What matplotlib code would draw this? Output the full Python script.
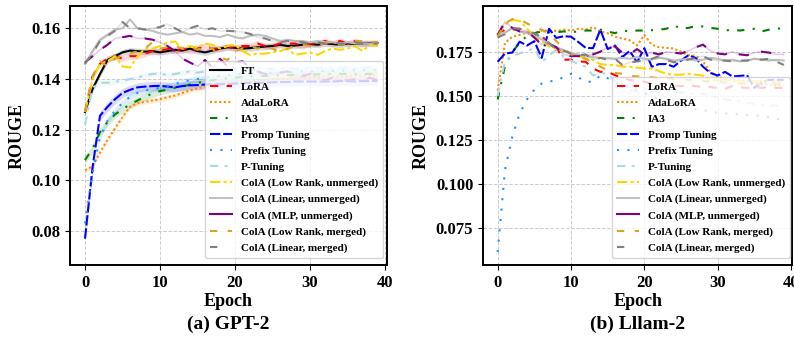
import numpy as np
import matplotlib
matplotlib.use("Agg")
import matplotlib.pyplot as plt
from matplotlib.lines import Line2D

plt.rcParams['font.family'] = ['Liberation Serif', 'DejaVu Serif']
plt.rcParams['font.weight'] = 'bold'

epochs = list(range(40))

labels = ["FT", "LoRA", "AdaLoRA", "IA3", "Promp Tuning", "Prefix Tuning", "P-Tuning",
          "ColA (Low Rank, unmerged)", "ColA (Linear, unmerged)", "ColA (MLP, unmerged)",
          "ColA (Low Rank, merged)", "ColA (Linear, merged)"]

# ---------------- GPT-2 (left) ----------------
gpt_ft = [0.127,0.136,0.142,0.1475,0.149,0.1505,0.1512,0.151,0.1508,0.151,0.1505,0.151,0.1515,0.1512,0.152,0.151,0.1505,0.1512,0.152,0.1525,
          0.1523,0.152,0.1522,0.1525,0.1528,0.153,0.1535,0.153,0.1532,0.1535,0.1538,0.1535,0.154,0.1538,0.1535,0.154,0.1538,0.154,0.1542,0.1542]
gpt_lora = [0.127,0.141,0.146,0.148,0.149,0.148,0.149,0.149,0.150,0.151,0.151,0.152,0.151,0.152,0.151,0.152,0.153,0.152,0.152,0.153,
            0.152,0.153,0.153,0.154,0.153,0.153,0.154,0.154,0.154,0.153,0.154,0.154,0.155,0.154,0.155,0.154,0.155,0.154,0.154,0.154]
gpt_adalora = [0.104,0.1055,0.111,0.116,0.1205,0.125,0.129,0.1305,0.131,0.1315,0.132,0.1328,0.1335,0.1345,0.1355,0.1363,0.137,0.1375,0.138,0.1383,
               0.1385,0.1388,0.139,0.1393,0.1395,0.1398,0.140,0.140,0.1403,0.1405,0.1405,0.1408,0.141,0.141,0.141,0.1412,0.1413,0.1413,0.1415,0.1415]
gpt_ia3 = [0.108,0.1125,0.119,0.123,0.126,0.128,0.130,0.1315,0.133,0.1343,0.1352,0.1358,0.1365,0.137,0.1378,0.1385,0.139,0.1395,0.140,0.1403,
           0.1405,0.1408,0.141,0.141,0.1412,0.1413,0.1415,0.1415,0.1415,0.1415,0.1418,0.1418,0.142,0.142,0.142,0.142,0.142,0.142,0.142,0.142]
gpt_promp = [0.077,0.105,0.1255,0.129,0.132,0.1345,0.1357,0.1367,0.137,0.1372,0.1373,0.137,0.1367,0.1372,0.1375,0.1376,0.1378,0.138,0.138,0.138,
             0.1382,0.1383,0.1385,0.1385,0.1385,0.1387,0.1388,0.1388,0.139,0.139,0.139,0.139,0.139,0.139,0.1392,0.1392,0.139,0.1392,0.1392,0.1392]
gpt_prefix = [0.083,0.103,0.117,0.1235,0.1275,0.1305,0.133,0.1345,0.1355,0.136,0.1365,0.137,0.138,0.139,0.1395,0.140,0.1405,0.141,0.1412,0.1415,
              0.1418,0.142,0.142,0.1422,0.1422,0.1425,0.1425,0.1427,0.1428,0.143,0.143,0.143,0.1432,0.1432,0.1433,0.1433,0.1435,0.1435,0.1435,0.1435]
gpt_ptuning = [0.122,0.1365,0.1385,0.1385,0.139,0.1392,0.140,0.1405,0.1415,0.142,0.1422,0.1415,0.142,0.1425,0.143,0.1425,0.143,0.1435,0.1432,0.1435,
               0.1435,0.1437,0.144,0.144,0.1438,0.144,0.144,0.1442,0.144,0.1443,0.1443,0.1442,0.1445,0.1443,0.1445,0.1445,0.1445,0.1445,0.1445,0.1445]
gpt_lru = [0.127,0.140,0.146,0.147,0.149,0.145,0.1445,0.149,0.152,0.152,0.153,0.1545,0.1548,0.152,0.153,0.1525,0.154,0.1535,0.152,0.153,
           0.1535,0.151,0.1495,0.150,0.150,0.1505,0.151,0.152,0.1495,0.150,0.1505,0.1495,0.151,0.152,0.1515,0.152,0.153,0.151,0.1535,0.153]
gpt_linu = [0.146,0.151,0.1555,0.1575,0.1595,0.160,0.1635,0.160,0.1595,0.159,0.158,0.1575,0.158,0.1585,0.1575,0.158,0.157,0.157,0.1565,0.1575,
            0.1565,0.156,0.157,0.1575,0.157,0.156,0.155,0.1555,0.155,0.155,0.1545,0.155,0.1545,0.1545,0.154,0.1545,0.154,0.154,0.154,0.154]
gpt_mlp = [0.1465,0.149,0.1515,0.1535,0.156,0.1565,0.157,0.156,0.156,0.1555,0.1545,0.153,0.151,0.148,0.1465,0.145,0.1475,0.1445,0.148,0.145,
           0.1465,0.147,0.1445,0.143,0.142,0.142,0.1425,0.143,0.1415,0.141,0.142,0.1405,0.1395,0.1405,0.1395,0.1395,0.140,0.1395,0.1405,0.1395]
gpt_lrm = [0.127,0.141,0.147,0.145,0.148,0.149,0.150,0.151,0.152,0.1545,0.152,0.1525,0.153,0.152,0.153,0.1515,0.153,0.152,0.1485,0.1475,
           0.151,0.152,0.153,0.152,0.153,0.152,0.1505,0.152,0.153,0.1535,0.153,0.1535,0.154,0.154,0.1535,0.154,0.155,0.155,0.1545,0.1545]
gpt_linm = [0.146,0.150,0.155,0.157,0.159,0.1625,0.160,0.160,0.1595,0.160,0.1605,0.1617,0.160,0.1585,0.160,0.161,0.1595,0.160,0.159,0.159,
            0.1588,0.1585,0.1578,0.1565,0.156,0.155,0.1545,0.155,0.155,0.1545,0.154,0.1545,0.154,0.1545,0.154,0.154,0.1545,0.154,0.154,0.154]
gpt_band = [0.0012, 0.0012, 0.001, 0.0015, 0.0018, 0.0012, 0.001, 0, 0, 0, 0, 0]

# ---------------- Llama-2 (right) ----------------
ll_lora = [0.1845,0.1875,0.1875,0.188,0.1855,0.1845,0.1845,0.178,0.1775,0.1705,0.1705,0.1695,0.1693,0.1655,0.1636,0.1636,0.1617,0.160,0.159,0.1585,
           0.158,0.157,0.1565,0.157,0.156,0.1555,0.156,0.1555,0.155,0.155,0.1545,0.154,0.1555,0.155,0.1545,0.155,0.1545,0.155,0.1545,0.1545]
ll_adalora = [0.153,0.180,0.1835,0.1845,0.186,0.1855,0.187,0.1868,0.1868,0.1875,0.187,0.188,0.1875,0.189,0.1865,0.1855,0.1835,0.1825,0.1815,0.1785,
              0.1845,0.179,0.1775,0.1772,0.1768,0.175,0.173,0.1728,0.1695,0.1635,0.161,0.1595,0.159,0.159,0.1585,0.158,0.157,0.1565,0.1555,0.1555]
ll_ia3 = [0.148,0.167,0.175,0.180,0.184,0.1855,0.1865,0.186,0.186,0.1865,0.186,0.1865,0.187,0.187,0.1875,0.1865,0.1855,0.187,0.1865,0.187,
          0.187,0.1872,0.1875,0.188,0.190,0.188,0.1885,0.1895,0.1893,0.1885,0.188,0.187,0.1875,0.187,0.1875,0.188,0.1865,0.1875,0.1882,0.188]
ll_promp = [0.1693,0.174,0.1745,0.1807,0.1785,0.181,0.1715,0.188,0.1828,0.1838,0.1835,0.1805,0.1772,0.177,0.1875,0.1765,0.1785,0.172,0.1755,0.169,
            0.177,0.1665,0.168,0.168,0.1665,0.170,0.173,0.1715,0.1665,0.163,0.1615,0.1636,0.161,0.1613,0.1617,0.1545,0.1575,0.159,0.159,0.159]
ll_prefix = [0.0615,0.108,0.127,0.140,0.148,0.1535,0.157,0.158,0.159,0.1605,0.1625,0.1605,0.158,0.158,0.1615,0.160,0.158,0.156,0.1555,0.153,
             0.1515,0.150,0.148,0.1465,0.145,0.1445,0.1435,0.1425,0.142,0.141,0.1405,0.140,0.140,0.1395,0.139,0.139,0.1385,0.138,0.137,0.1365]
ll_ptuning = [0.150,0.170,0.1725,0.174,0.1755,0.177,0.169,0.173,0.176,0.172,0.170,0.168,0.1665,0.1615,0.163,0.1625,0.158,0.155,0.1535,0.1525,
              0.154,0.153,0.152,0.153,0.1525,0.152,0.151,0.1515,0.151,0.1505,0.149,0.148,0.1475,0.147,0.146,0.1455,0.145,0.1445,0.1445,0.144]
ll_lru = [0.1845,0.1905,0.193,0.1925,0.188,0.1835,0.181,0.178,0.1765,0.1755,0.174,0.1725,0.171,0.1705,0.168,0.1675,0.1675,0.1665,0.1665,0.166,
          0.1655,0.1655,0.164,0.1625,0.162,0.162,0.1625,0.162,0.1615,0.159,0.1585,0.159,0.1585,0.1585,0.158,0.158,0.1585,0.158,0.158,0.158]
ll_linu = [0.185,0.186,0.1885,0.1865,0.1855,0.184,0.182,0.1795,0.1775,0.176,0.174,0.1735,0.1725,0.172,0.1715,0.1715,0.171,0.1715,0.171,0.172,
           0.171,0.1705,0.1715,0.171,0.170,0.1705,0.171,0.170,0.1705,0.1715,0.171,0.170,0.1705,0.1695,0.170,0.171,0.1705,0.170,0.1705,0.170]
ll_mlp = [0.1845,0.192,0.1885,0.1865,0.1865,0.183,0.179,0.1795,0.1775,0.1735,0.1725,0.1725,0.173,0.1735,0.175,0.1775,0.178,0.1745,0.1735,0.1765,
          0.1735,0.1745,0.1735,0.175,0.1745,0.174,0.1755,0.1775,0.179,0.1755,0.174,0.1735,0.175,0.1735,0.173,0.1745,0.175,0.1745,0.1735,0.1735]
ll_lrm = [0.1835,0.191,0.1935,0.1935,0.191,0.189,0.1875,0.185,0.181,0.177,0.1735,0.1725,0.171,0.169,0.1665,0.1645,0.163,0.1625,0.1615,0.161,
          0.161,0.1605,0.160,0.160,0.1595,0.160,0.159,0.159,0.1585,0.158,0.158,0.1575,0.1575,0.157,0.157,0.157,0.1565,0.157,0.1565,0.157]
ll_linm = [0.183,0.185,0.1885,0.188,0.1865,0.1855,0.183,0.180,0.176,0.1755,0.174,0.173,0.1735,0.1705,0.1715,0.1705,0.171,0.1675,0.169,0.1695,
           0.170,0.171,0.1725,0.1705,0.169,0.1695,0.1705,0.1715,0.1725,0.1705,0.170,0.170,0.1695,0.170,0.170,0.171,0.1705,0.171,0.1695,0.1675]

gpt_yticks = [0.08, 0.10, 0.12, 0.14, 0.16]
ll_yticks = [0.075, 0.100, 0.125, 0.150, 0.175]
xticks = [0, 10, 20, 30, 40]

# styles: (color, linestyle)
styles = [
    ("black", "-"),
    ("red", (0, (4, 4))),
    ("darkorange", (0, (1, 1.2))),
    ("green", (0, (3.5, 4, 1, 4))),
    ("blue", (0, (5, 1.3))),
    ("dodgerblue", (0, (1, 4))),
    ("lightblue", (0, (4, 3, 1.5, 3))),
    ("gold", (0, (5, 1.5, 1.5, 1.5))),
    ("silver", "-"),
    ("purple", "-"),
    ("goldenrod", (0, (3.5, 5))),
    ("gray", (0, (3.5, 8))),
]
# line drawn in the plot (segmented look for some)
plot_ls = {9: (0, (5, 6)), 11: (0, (4, 5))}

W, H = 794, 339
fig = plt.figure(figsize=(W / 100, H / 100), dpi=100)
ax1 = fig.add_axes([70 / W, 74 / H, 316.5 / W, 259 / H])
ax2 = fig.add_axes([483 / W, 74 / H, 309.5 / W, 259 / H])

def draw(ax, series, idxs, bands=None):
    handles = []
    for s, i in zip(series, idxs):
        color, ls = styles[i]
        y = np.array(s)
        if bands is not None and bands[i] > 0:
            ax.fill_between(epochs, y - bands[i], y + bands[i], color=color, alpha=0.15, lw=0)
        if i in plot_ls:
            ax.plot(epochs, y, color=color, lw=1.2, alpha=0.2)
            ax.plot(epochs, y, color=color, lw=1.5, ls=plot_ls[i])
        else:
            ax.plot(epochs, y, color=color, lw=1.5, ls=ls)
        handles.append(Line2D([], [], color=color, lw=1.5, ls=ls, label=labels[i]))
    return handles

gpt_series = [gpt_ft, gpt_lora, gpt_adalora, gpt_ia3, gpt_promp, gpt_prefix, gpt_ptuning,
              gpt_lru, gpt_linu, gpt_mlp, gpt_lrm, gpt_linm]
ll_series = [ll_lora, ll_adalora, ll_ia3, ll_promp, ll_prefix, ll_ptuning,
             ll_lru, ll_linu, ll_mlp, ll_lrm, ll_linm]

h1 = draw(ax1, gpt_series, list(range(12)), gpt_band)
h2 = draw(ax2, ll_series, list(range(1, 12)))

for ax, yt, fmt, ylim, cap in [(ax1, gpt_yticks, "{:.2f}", (0.0666, 0.1688), "(a) GPT-2"),
                              (ax2, ll_yticks, "{:.3f}", (0.0542, 0.2009), "(b) Lllam-2")]:
    ax.set_xlim(-2, 40.2)
    ax.set_ylim(*ylim)
    ax.set_xticks(xticks)
    ax.set_xticklabels([str(t) for t in xticks], fontsize=12, fontweight='bold')
    ax.set_yticks(yt)
    ax.set_yticklabels([fmt.format(t) for t in yt], fontsize=12, fontweight='bold')
    ax.grid(True, ls='--', color='#cccccc', lw=0.7)
    ax.set_axisbelow(True)
    for sp in ax.spines.values():
        sp.set_linewidth(1.4)
    ax.set_xlabel("Epoch", fontsize=13, fontweight='bold', labelpad=2)
    ax.set_ylabel("ROUGE", fontsize=13, fontweight='bold', labelpad=4)
    ax.text(0.5, -0.195, cap, transform=ax.transAxes, ha='center', va='top',
            fontsize=14, fontweight='bold')

leg_kw = dict(loc='lower right', borderaxespad=0,
              prop={'family': 'Liberation Serif', 'weight': 'bold', 'size': 8},
              labelspacing=0.56, handlelength=2.0, borderpad=0.45)
ax1.legend(handles=h1, bbox_to_anchor=(0.99, 0.027), **leg_kw)
ax2.legend(handles=h2, bbox_to_anchor=(0.992, 0.027), **leg_kw)

fig.savefig("out.png", dpi=100)
